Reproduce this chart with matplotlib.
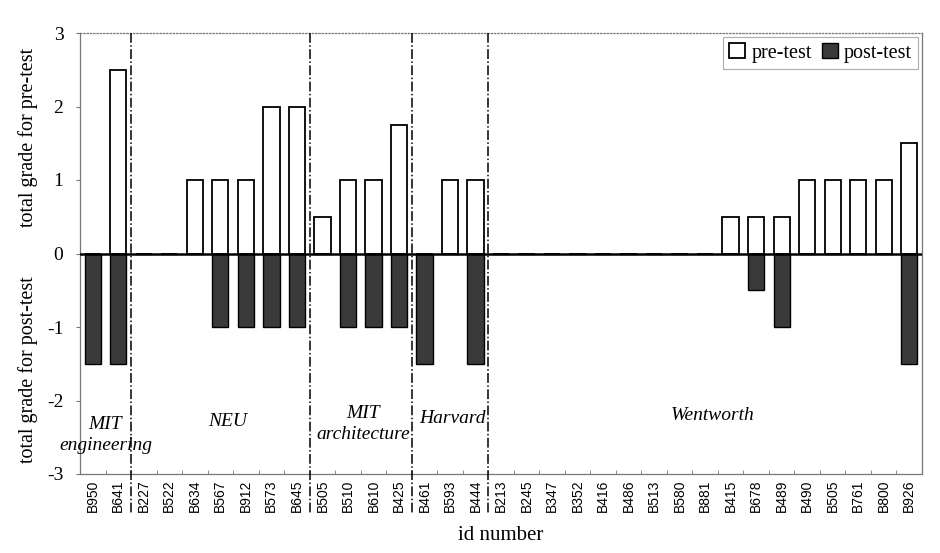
import matplotlib
matplotlib.use("Agg")
import matplotlib.pyplot as plt
import numpy as np

ids = ["B950", "B641",
       "B227", "B522", "B634", "B567", "B912", "B573", "B645",
       "B505", "B510", "B610", "B425",
       "B461", "B593", "B444",
       "B213", "B245", "B347", "B352", "B416", "B486", "B513", "B580", "B881",
       "B415", "B678", "B489", "B490", "B505", "B761", "B800", "B926"]
pre_test = [0, 2.5,
            0, 0, 1, 1, 1, 2, 2,
            0.5, 1, 1, 1.75,
            0, 1, 1,
            0, 0, 0, 0, 0, 0, 0, 0, 0,
            0.5, 0.5, 0.5, 1, 1, 1, 1, 1.5]
post_test = [-1.5, -1.5,
             0, 0, 0, -1, -1, -1, -1,
             0, -1, -1, -1,
             -1.5, 0, -1.5,
             0, 0, 0, 0, 0, 0, 0, 0, 0,
             0, -0.5, -1, 0, 0, 0, 0, -1.5]
group_sizes = [2, 7, 4, 3, 17]
group_labels = ["MIT\nengineering", "NEU", "MIT\narchitecture", "Harvard", "Wentworth"]

serif = ["Liberation Serif", "DejaVu Serif"]
sans = ["Liberation Sans", "DejaVu Sans"]

fig = plt.figure(figsize=(9.4, 5.53), dpi=100)
ax = fig.add_axes([80/940, 1-474/553, 842/940, 441/553])

x = np.arange(len(ids))
w = 0.64
ax.bar(x, pre_test, width=w, color="white", edgecolor="black", linewidth=1.3,
       label="pre-test", zorder=3)
ax.bar(x, post_test, width=w, color="#3a3a3a", edgecolor="black", linewidth=1.0,
       label="post-test", zorder=3)

ax.axhline(0, color="black", linewidth=1.8, zorder=4)

ax.set_xlim(-0.5, len(ids) - 0.5)
ax.set_ylim(-3, 3)
ax.set_yticks([-3, -2, -1, 0, 1, 2, 3])
ax.set_yticklabels(["-3", "-2", "-1", "0", "1", "2", "3"], fontfamily=serif, fontsize=14)
ax.set_xticks(x)
ax.set_xticklabels(ids, rotation=90, fontfamily=sans, fontsize=10)
ax.set_xticks(np.arange(len(ids) + 1) - 0.5, minor=True)
ax.tick_params(axis="x", which="major", length=0, pad=4)
ax.tick_params(axis="x", which="minor", length=3, direction="in", color="#777777")
ax.tick_params(axis="y", length=3, color="#777777", pad=9)

for s in ax.spines.values():
    s.set_color("#777777")
    s.set_linewidth(0.9)
ax.spines["top"].set_linestyle(":")

# group separators
bounds = np.cumsum(group_sizes)[:-1] - 0.5
for b in bounds:
    ax.plot([b, b], [1.0, -0.088], transform=ax.get_xaxis_transform(),
            color="black", linestyle="-.", linewidth=1.1, clip_on=False, zorder=5)

# group labels
label_pos = [(0.5, -2.47), (5.3, -2.29), (10.6, -2.32), (14.1, -2.25), (24.3, -2.21)]
for (lx, ly), lab in zip(label_pos, group_labels):
    ax.text(lx, ly, lab, ha="center", va="center", fontfamily=serif,
            fontstyle="italic", fontsize=14, linespacing=1.25, zorder=6)

ax.set_xlabel("id number", fontfamily=serif, fontsize=15, labelpad=10)

fig.text(28/940, 1-137/553, "total grade for pre-test", rotation=90,
         ha="center", va="center", fontfamily=serif, fontsize=14.5)
fig.text(28/940, 1-370/553, "total grade for post-test", rotation=90,
         ha="center", va="center", fontfamily=serif, fontsize=14.5)

leg = ax.legend(loc="upper right", ncol=2, prop={"family": serif, "size": 14.5},
                frameon=True, fancybox=False, borderaxespad=0.2,
                handlelength=0.8, handleheight=0.8, handletextpad=0.3,
                columnspacing=0.5, borderpad=0.3)
leg.get_frame().set_edgecolor("#999999")
leg.get_frame().set_linewidth(0.8)

fig.savefig("out.png", dpi=100)
